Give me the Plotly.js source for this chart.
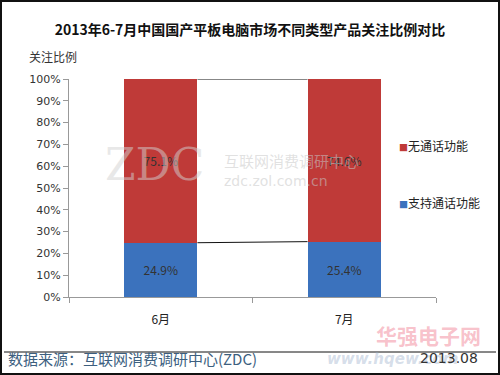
<!DOCTYPE html>
<html>
<head>
<meta charset="utf-8">
<script src="https://cdn.plot.ly/plotly-3.0.1.min.js"></script>
<style>
html,body{margin:0;padding:0;background:#fff;}
#wrap{position:relative;width:500px;height:375px;}
#chart{width:500px;height:375px;}
#frame{position:absolute;left:0;top:0;width:500px;height:375px;box-sizing:border-box;border:2px solid #111;pointer-events:none;}
</style>
</head>
<body>
<div id="wrap"><div id="chart"></div><div id="frame"></div></div>
<script>
var categories = ['6月', '7月'];
var seriesNames = ['支持通话功能', '无通话功能'];
var withCall = [24.9, 25.4];
var noCall = [75.1, 74.6];
var yTickVals = [0,10,20,30,40,50,60,70,80,90,100];
var titleText = '2013年6-7月中国国产平板电脑市场不同类型产品关注比例对比';
var yTitle = '关注比例';
var sourceText = '数据来源：互联网消费调研中心(ZDC)';
var dateText = '2013.08';

var blue = '#3b72bd', red = '#bf3a38';
var xs = categories.map(function(c,i){return i;});
var halfW = 0.2;
var F = "'Noto Sans CJK SC', 'DejaVu Sans', sans-serif";

var fmt = function(v){return v.toFixed(1)+'%';};
function px(x){return (x-69)/367;}
function py(y){return (297-y)/218;}

var traces = [
  {type:'bar', x:xs, y:withCall, width:0.4, name:seriesNames[0],
   marker:{color:blue}, text:withCall.map(fmt), textposition:'inside',
   insidetextanchor:'middle', textfont:{color:'#333', size:12, family:F},
   hoverinfo:'skip', showlegend:false},
  {type:'bar', x:xs, y:noCall, width:0.4, name:seriesNames[1],
   marker:{color:red}, text:noCall.map(fmt), textposition:'inside',
   insidetextanchor:'middle', textfont:{color:'#333', size:12, family:F},
   hoverinfo:'skip', showlegend:false},
  {type:'scatter', mode:'lines', x:[xs[0]+halfW, xs[1]-halfW], y:withCall,
   line:{color:'#111', width:1}, showlegend:false, hoverinfo:'skip'},
  {type:'scatter', mode:'lines', x:[xs[0]+halfW, xs[1]-halfW],
   y:[withCall[0]+noCall[0], withCall[1]+noCall[1]],
   line:{color:'#111', width:1}, showlegend:false, hoverinfo:'skip'}
];

var annotations = [
  // watermarks (drawn first, under other text)
  {text:'ZDC', xref:'paper', yref:'paper', x:px(103), y:py(164), xanchor:'left', yanchor:'middle',
   showarrow:false, font:{size:44, color:'rgba(210,210,210,0.5)', family:"'DejaVu Serif', serif"}},
  {text:'互联网消费调研中心', xref:'paper', yref:'paper', x:px(222), y:py(160), xanchor:'left', yanchor:'middle',
   showarrow:false, font:{size:15, color:'rgba(200,200,200,0.55)', family:F}},
  {text:'zdc.zol.com.cn', xref:'paper', yref:'paper', x:px(222), y:py(181), xanchor:'left', yanchor:'middle',
   showarrow:false, font:{size:14, color:'rgba(200,200,200,0.55)', family:"'DejaVu Sans', sans-serif"}},
  {text:'<b>华强电子网</b>', xref:'paper', yref:'paper', x:px(374), y:py(335), xanchor:'left', yanchor:'middle',
   showarrow:false, font:{size:21, color:'rgba(240,120,140,0.45)', family:F}},
  {text:'<b><i>www.hqew.com</i></b>', xref:'paper', yref:'paper', x:px(325), y:py(359), xanchor:'left', yanchor:'middle',
   showarrow:false, font:{size:15, color:'rgba(150,170,200,0.4)', family:"'DejaVu Sans', sans-serif"}},
  // y title
  {text:yTitle, xref:'paper', yref:'paper', x:px(27), y:py(57), xanchor:'left', yanchor:'middle',
   showarrow:false, font:{size:12, color:'#333', family:F}},
  // legend
  {text:'<span style="color:'+red+';font-size:9px">■</span>'+seriesNames[1], xref:'paper', yref:'paper',
   x:px(397), y:py(145), xanchor:'left', yanchor:'middle', showarrow:false,
   font:{size:12, color:'#222', family:F}},
  {text:'<span style="color:'+blue+';font-size:9px">■</span>'+seriesNames[0], xref:'paper', yref:'paper',
   x:px(397), y:py(202), xanchor:'left', yanchor:'middle', showarrow:false,
   font:{size:12, color:'#222', family:F}},
  // footer
  {text:sourceText, xref:'paper', yref:'paper', x:px(6), y:py(358), xanchor:'left', yanchor:'middle',
   showarrow:false, font:{size:15, color:'#3d5f7f', family:F}},
  {text:dateText, xref:'paper', yref:'paper', x:px(480), y:py(358), xanchor:'right', yanchor:'middle',
   showarrow:false, font:{size:14, color:'#333', family:"'DejaVu Sans', sans-serif"}}
];

var layout = {
  width:500, height:375,
  margin:{l:69, r:64, t:79, b:78},
  paper_bgcolor:'#fff', plot_bgcolor:'#fff',
  barmode:'stack',
  showlegend:false,
  title:{text:'<b>'+titleText+'</b>', x:0.5, xanchor:'center', y:1-30/375, yanchor:'middle', yref:'container',
         font:{size:14, color:'#111', family:F}},
  xaxis:{range:[-0.5, 1.5], tickvals:xs, ticktext:categories, ticks:'', showgrid:false, zeroline:false,
         showline:true, linecolor:'#999', linewidth:1, ticklabelstandoff:12,
         tickfont:{size:12, color:'#222', family:F},
         minor:{tickvals:[-0.5, 0.5, 1.5], ticks:'outside', ticklen:5, tickcolor:'#999', showgrid:false}},
  yaxis:{range:[0,100], tickvals:yTickVals, ticktext:yTickVals.map(function(v){return v+'%';}),
         ticks:'outside', ticklen:5, tickcolor:'#999', showgrid:false, zeroline:false,
         showline:true, linecolor:'#999', linewidth:1,
         tickfont:{size:11, color:'#333', family:"'DejaVu Sans', sans-serif"}},
  shapes:[{type:'line', xref:'paper', yref:'paper', x0:px(4), x1:px(496),
           y0:py(352), y1:py(352), line:{color:'#111', width:1}}],
  annotations:annotations
};

Plotly.newPlot('chart', traces, layout, {staticPlot:true, displayModeBar:false});
</script>
</body>
</html>
